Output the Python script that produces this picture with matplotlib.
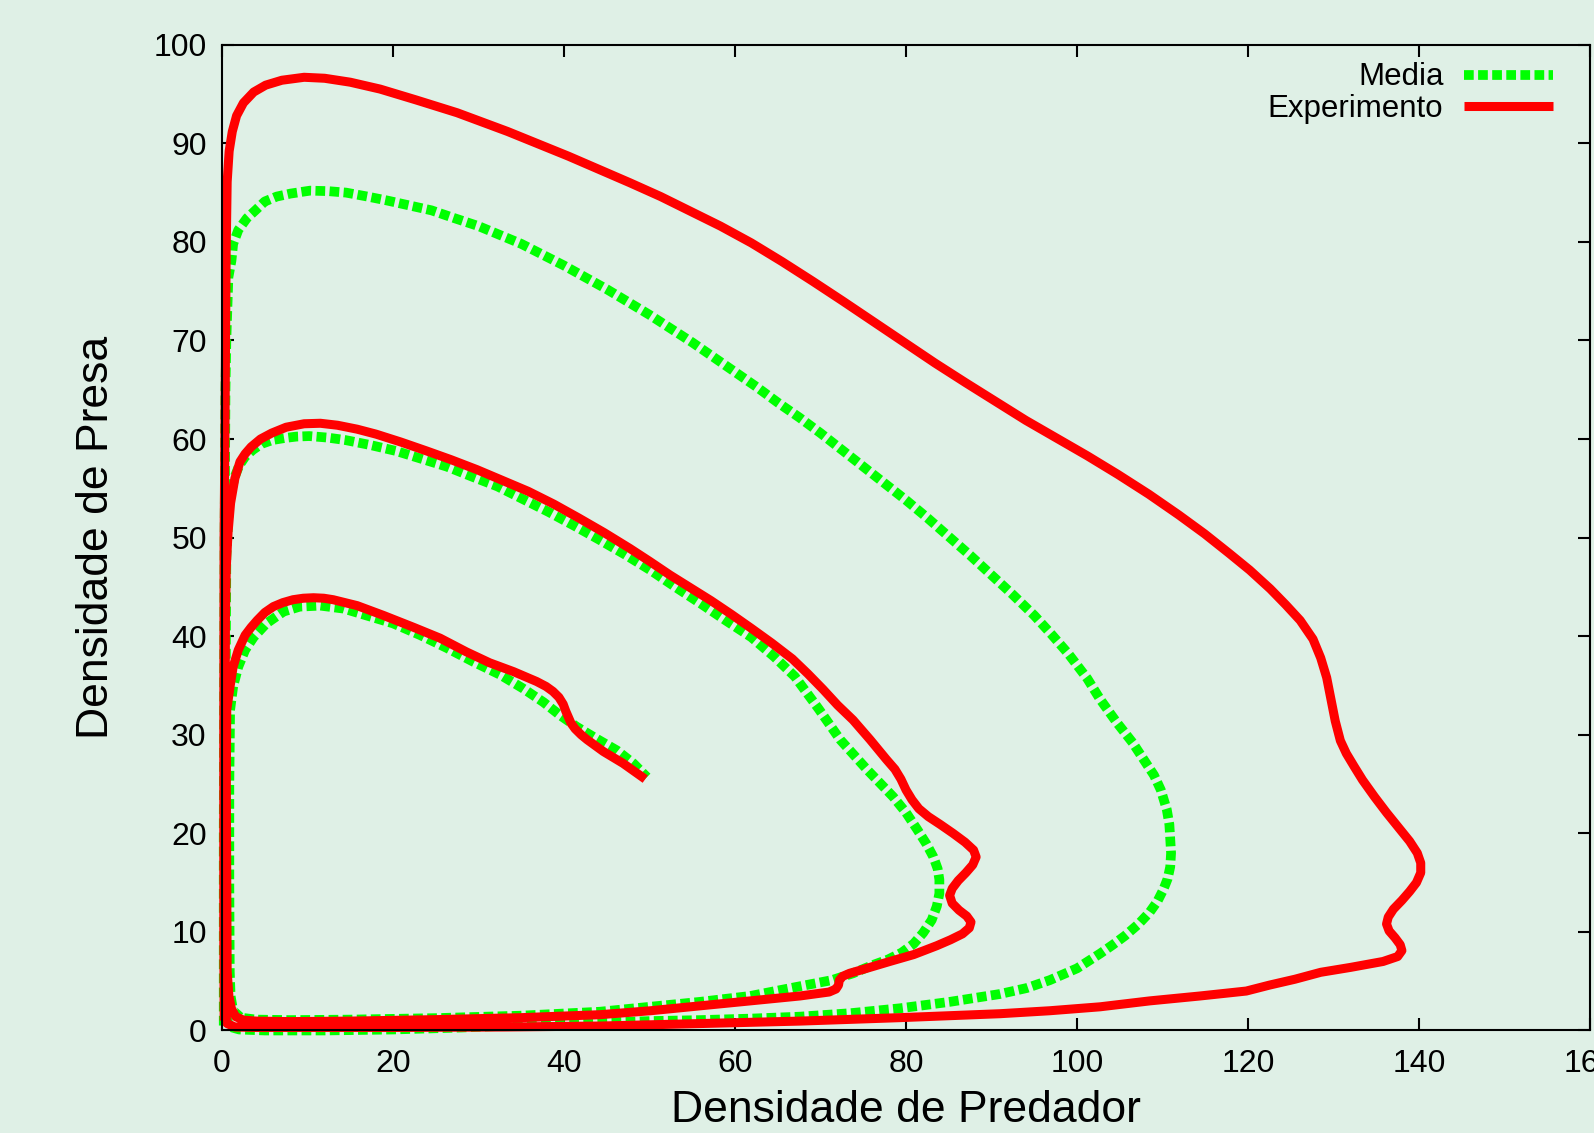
import matplotlib
matplotlib.use("Agg")
from matplotlib import pyplot as plt

plt.rcParams['font.family'] = ['Liberation Sans', 'DejaVu Sans']

# Experimento: pontos (predador, presa) na ordem do tempo
experimento = [
    (0.25, 1.0), (0.2, 10), (0.2, 30), (0.24, 50), (0.36, 63.4), (0.48, 78.9),
    (0.6, 86.1), (0.83, 89.2), (1.2, 91.2), (1.7, 92.8), (2.5, 94.1), (3.7, 95.2),
    (5.1, 95.9), (7.0, 96.4), (9.6, 96.7), (12.0, 96.6), (15.0, 96.2), (18.5, 95.5),
    (22.7, 94.4), (27.5, 93.1), (33.4, 91.2), (40.5, 88.7), (47.7, 86.0), (51.3, 84.6),
    (54.8, 83.1), (58.3, 81.6), (61.9, 79.9), (65.5, 78.0), (69.1, 76.0), (72.6, 74.0),
    (76.2, 71.9), (79.8, 69.8), (83.4, 67.7), (87.0, 65.7), (90.5, 63.8), (94.0, 61.9),
    (97.6, 60.1), (101.2, 58.3), (104.8, 56.4), (108.4, 54.4), (111.9, 52.3),
    (114.9, 50.4), (117.8, 48.4), (120.2, 46.7), (122.6, 44.8), (124.4, 43.2),
    (126.1, 41.6), (127.6, 39.7), (128.5, 37.8), (129.2, 35.8), (129.7, 33.6),
    (130.2, 31.4), (130.8, 29.4), (131.5, 28.1), (132.4, 26.8), (133.4, 25.4),
    (134.8, 23.7), (136.2, 22.1), (137.6, 20.6), (138.9, 19.2), (139.8, 18.0),
    (140.2, 17.0), (140.2, 16.0), (139.7, 15.0), (138.9, 14.1), (138.0, 13.2),
    (137.0, 12.3), (136.4, 11.5), (136.2, 10.8), (136.5, 10.1), (137.2, 9.4),
    (137.8, 8.7), (138.0, 8.1), (137.5, 7.5), (135.8, 7.0), (132.0, 6.4), (128.5, 5.9),
    (125.5, 5.2), (122.5, 4.6), (119.8, 4.0), (114.4, 3.5), (108.5, 3.0), (102.7, 2.4),
    (96.8, 2.0), (91.0, 1.7), (79.3, 1.3), (67.6, 0.95), (55.9, 0.7), (44.2, 0.45),
    (33.0, 0.35), (20.0, 0.3), (10.0, 0.3), (4.0, 0.3), (1.5, 0.35), (0.6, 0.7),
    (0.35, 2.0), (0.3, 15), (0.35, 30), (0.4, 42), (0.5, 47), (0.7, 50.5),
    (1.0, 53.5), (1.5, 56.0), (2.1, 57.7), (2.7, 58.5), (3.4, 59.2), (4.5, 60.0),
    (5.8, 60.6), (7.5, 61.2), (9.6, 61.55), (11.5, 61.6), (13.5, 61.4), (15.8, 61.0),
    (18.0, 60.5), (20.9, 59.7), (23.9, 58.8), (26.8, 57.9), (29.8, 56.9), (32.8, 55.8),
    (35.8, 54.7), (38.8, 53.4), (41.7, 52.0), (44.7, 50.5), (47.7, 48.9), (50.0, 47.6),
    (52.4, 46.2), (54.8, 44.9), (57.2, 43.6), (59.6, 42.2), (61.9, 40.8), (64.3, 39.3),
    (66.7, 37.7), (68.5, 36.2), (70.3, 34.6), (72.0, 33.0), (73.8, 31.5), (75.8, 29.5),
    (77.7, 27.5), (78.7, 26.5), (79.4, 25.5), (80.0, 24.4), (80.7, 23.4), (81.5, 22.5),
    (82.6, 21.7), (84.0, 20.9), (85.5, 20.0), (86.9, 19.1), (87.9, 18.3), (88.2, 17.6),
    (87.8, 16.8), (87.0, 16.0), (86.1, 15.2), (85.4, 14.4), (85.1, 13.7), (85.4, 12.9),
    (86.2, 12.2), (87.1, 11.6), (87.6, 11.0), (87.4, 10.4), (86.6, 9.8), (85.2, 9.2),
    (83.6, 8.6), (80.9, 7.7), (78.1, 7.0), (75.0, 6.2), (73.4, 5.8), (72.6, 5.5),
    (72.2, 5.1), (72.1, 4.6), (71.8, 4.2), (71.0, 3.9), (67.6, 3.5), (61.8, 3.0),
    (55.9, 2.5), (50.1, 2.0), (44.2, 1.6), (35.0, 1.3), (25.0, 1.1), (15.0, 0.95),
    (8.0, 0.9), (4.0, 0.95), (2.5, 1.05), (1.6, 1.4), (1.1, 2.2), (0.8, 3.5),
    (0.6, 6), (0.55, 15), (0.5, 25), (0.55, 32.5), (0.94, 34.9), (1.3, 36.9),
    (1.9, 38.6), (2.7, 40.1), (3.4, 40.9), (4.1, 41.6), (5.0, 42.4), (6.0, 43.0),
    (7.1, 43.4), (8.3, 43.7), (9.5, 43.85), (10.7, 43.9), (11.9, 43.85), (13.0, 43.7),
    (15.8, 43.1), (18.9, 42.1), (22.4, 40.9), (25.5, 39.8), (28.6, 38.4), (31.3, 37.3),
    (34.1, 36.4), (36.8, 35.4), (37.9, 34.9), (38.7, 34.4), (39.4, 33.8), (39.9, 33.1),
    (40.2, 32.4), (40.5, 31.8), (40.8, 31.2), (41.3, 30.6), (42.0, 30.0), (42.7, 29.5),
    (44.6, 28.3), (46.9, 27.1), (49.5, 25.5),
]

# Media: pontos (predador, presa) na ordem do tempo
media = [
    (0.2, 0.5), (0.2, 20), (0.3, 50), (0.4, 65), (0.5, 70), (0.74, 76.4), (1.1, 78.1),
    (1.3, 79.8), (1.9, 81.2), (2.9, 82.4), (3.9, 83.2), (5.0, 84.1), (6.4, 84.6),
    (8.0, 84.9), (10.3, 85.2), (12.4, 85.15), (14.5, 85.0), (17.0, 84.6), (19.3, 84.2),
    (21.9, 83.7), (24.5, 83.2), (27.2, 82.4), (30.0, 81.6), (32.5, 80.7), (35.0, 79.8),
    (37.5, 78.7), (40.0, 77.6), (42.5, 76.4), (45.0, 75.2), (47.5, 73.9), (50.0, 72.6),
    (52.5, 71.2), (55.0, 69.8), (57.5, 68.3), (60.0, 66.8), (62.5, 65.3), (65.0, 63.7),
    (67.5, 62.2), (70.0, 60.6), (72.5, 58.9), (75.0, 57.2), (77.5, 55.5), (80.0, 53.8),
    (82.5, 52.0), (85.0, 50.1), (87.5, 48.2), (90.0, 46.2), (92.5, 44.2), (95.0, 42.1),
    (97.0, 40.2), (99.0, 38.2), (101.2, 35.7), (102.7, 33.6), (104.6, 31.3),
    (106.5, 29.2), (108.1, 27.1), (109.0, 25.9), (109.8, 24.4), (110.5, 22.4),
    (110.8, 20.9), (110.9, 19.4), (111.0, 18.0), (110.9, 16.6), (110.6, 15.4),
    (110.1, 14.3), (109.4, 13.1), (108.5, 12.0), (107.2, 10.8), (105.6, 9.6),
    (104.2, 8.7), (102.7, 7.8), (100.0, 6.3), (96.8, 5.1), (94.1, 4.3), (91.0, 3.7),
    (85.1, 2.9), (79.3, 2.25), (73.5, 1.75), (67.6, 1.4), (61.8, 1.2), (55.9, 1.05),
    (50.1, 0.95), (44.2, 0.8), (35.0, 0.55), (28.0, 0.3), (20.0, 0.1), (12.0, 0.0),
    (5.0, 0.0), (2.0, 0.1), (0.8, 0.4),
    (0.5, 1.5), (0.4, 20), (0.45, 40), (0.5, 48), (0.8, 53.1), (1.1, 54.8), (1.5, 56.2),
    (2.0, 57.3), (2.7, 58.2), (3.6, 58.9), (4.6, 59.5), (5.9, 59.9), (7.3, 60.1),
    (8.7, 60.25), (10.2, 60.3), (12.3, 60.15), (14.4, 59.9), (17.3, 59.4), (20.3, 58.8),
    (23.3, 58.0), (26.3, 57.2), (29.2, 56.2), (32.2, 55.2), (35.2, 53.9), (38.2, 52.6),
    (41.2, 51.2), (44.1, 49.8), (47.1, 48.3), (50.1, 46.7), (53.0, 45.0), (56.0, 43.3),
    (58.9, 41.6), (61.9, 39.9), (64.6, 37.9), (67.0, 35.9), (69.8, 32.6), (72.3, 29.5),
    (75.4, 26.5), (78.5, 23.7), (80.0, 22.1), (81.3, 20.4), (82.4, 18.9), (83.2, 17.6),
    (83.7, 16.4), (83.9, 15.3), (83.9, 13.9), (83.6, 12.6), (83.0, 11.2), (82.0, 9.9),
    (80.9, 8.8), (79.5, 7.9), (77.9, 7.2), (76.0, 6.6), (73.8, 5.8), (71.3, 5.1),
    (66.5, 4.3), (61.8, 3.5), (55.9, 2.9), (50.1, 2.4), (44.2, 1.9), (35.0, 1.5),
    (25.0, 1.25), (15.0, 1.1), (8.0, 1.05), (4.0, 1.1), (2.2, 1.3), (1.3, 2.0), (1.0, 3.5),
    (0.9, 6), (0.85, 15), (0.85, 25), (0.94, 32.5), (1.3, 34.9), (1.9, 36.9),
    (2.7, 38.6), (3.7, 39.9), (5.2, 41.3), (7.2, 42.5), (9.1, 43.0), (11.5, 43.1),
    (14.2, 42.8), (16.9, 42.1), (20.0, 41.3), (23.2, 40.1), (26.3, 38.8), (29.4, 37.4),
    (32.5, 36.1), (35.2, 34.7), (37.6, 33.3), (39.5, 32.0), (41.5, 30.8), (43.8, 29.6),
    (46.2, 28.4), (48.1, 27.1), (49.7, 25.7),
]

xticks = [0, 20, 40, 60, 80, 100, 120, 140, 160]
yticks = [0, 10, 20, 30, 40, 50, 60, 70, 80, 90, 100]

exp_pred, exp_presa = zip(*experimento)
media_pred, media_presa = zip(*media)

bg = '#dff0e6'
fig = plt.figure(figsize=(15.94, 11.33), dpi=100, facecolor=bg)
ax = fig.add_axes([0.1393, 0.0905, 0.8582, 0.8700], facecolor=bg)

ax.plot(media_pred, media_presa, color='#00ff00', lw=7, linestyle=(0, (1.0, 0.45)),
        dash_capstyle='butt', dash_joinstyle='round', clip_on=False, label='Media')
ax.plot(exp_pred, exp_presa, color='#ff0000', lw=6.5, solid_capstyle='butt',
        solid_joinstyle='round', clip_on=False, label='Experimento')

ax.set_xlim(0, 160)
ax.set_ylim(0, 100)
ax.set_xticks(xticks)
ax.set_yticks(yticks)
ax.tick_params(direction='in', length=8.5, width=1.5, top=True, right=True,
               labelsize=23, colors='black')
ax.tick_params(axis='x', pad=13)
ax.tick_params(axis='y', pad=11)
for s in ax.spines.values():
    s.set_linewidth(1.5)

ax.set_xlabel('Densidade de Predador', fontsize=32, labelpad=8)
ax.set_ylabel('Densidade de Presa', fontsize=32, labelpad=26)

leg = ax.legend(loc='upper right', bbox_to_anchor=(0.973, 0.982), frameon=False,
                markerfirst=False, fontsize=22.5, handlelength=2.85, handletextpad=0.66,
                labelspacing=0.04, borderpad=0, borderaxespad=0)

fig.savefig('out.png', dpi=100, facecolor=bg)
